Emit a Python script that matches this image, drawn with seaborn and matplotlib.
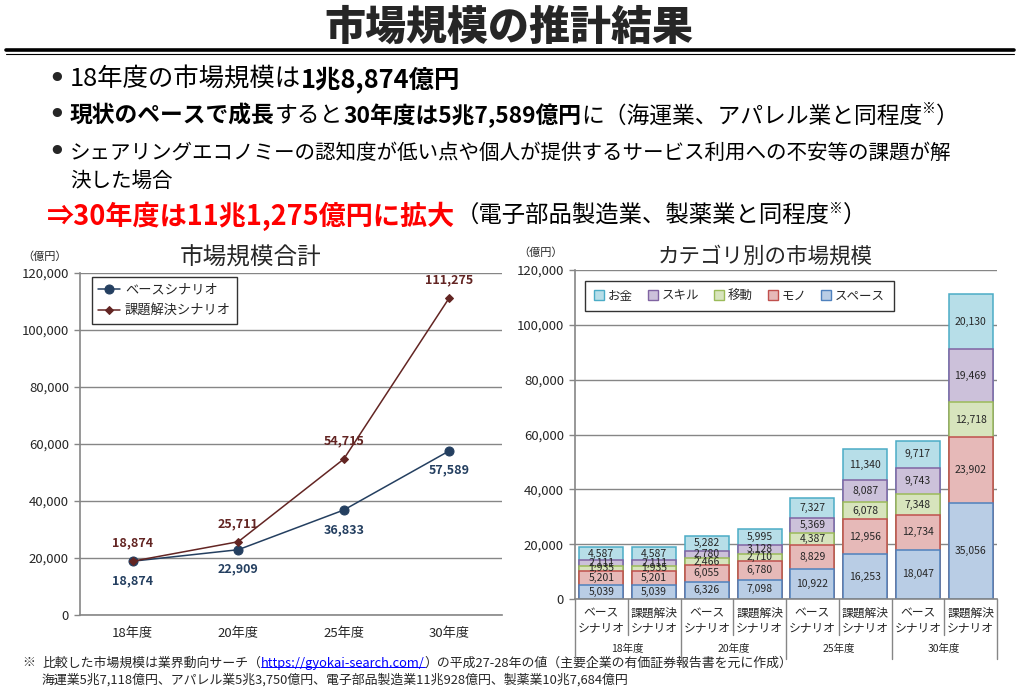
import numpy as np
import pandas as pd
import matplotlib.pyplot as plt
import matplotlib.transforms as mtransforms
from matplotlib.patches import Patch
from matplotlib.lines import Line2D
import seaborn as sns

sns.set_style("white")
plt.rcParams['font.family'] = ['Noto Sans CJK JP', 'DejaVu Sans']

# ---- データ ----
years = ['18年度', '20年度', '25年度', '30年度']
base_total = [18874, 22909, 36833, 57589]
solution_total = [18874, 25711, 54715, 111275]

scenario_labels = ['ベース\nシナリオ', '課題解決\nシナリオ']
bar_ids = ['18b', '18s', '20b', '20s', '25b', '25s', '30b', '30s']
# 下から積み上げ順
space = [5039, 5039, 6326, 7098, 10922, 16253, 18047, 35056]
mono = [5201, 5201, 6055, 6780, 8829, 12956, 12734, 23902]
idou = [1935, 1935, 2466, 2710, 4387, 6078, 7348, 12718]
skill = [2111, 2111, 2780, 3128, 5369, 8087, 9743, 19469]
okane = [4587, 4587, 5282, 5995, 7327, 11340, 9717, 20130]
cat_names = ['スペース', 'モノ', '移動', 'スキル', 'お金']
cat_values = [space, mono, idou, skill, okane]

fills = ['#B9CDE5', '#E6B9B8', '#D7E4BD', '#CCC1DA', '#B7DEE8']
edges = ['#4F81BD', '#C0504D', '#9BBB59', '#8064A2', '#4BACC6']
navy = '#243F60'
brown = '#632523'
grid_c = '#868686'

W, H = 1017, 691


def px(x, y):
    return x / W, 1 - y / H


fig = plt.figure(figsize=(W / 100, H / 100), dpi=100)
bg = fig.add_axes([0, 0, 1, 1])
bg.axis('off')
bg.set_xlim(0, 1)
bg.set_ylim(0, 1)

# ---- ヘッダー ----
fig.text(*px(509, 28), '市場規模の推計結果', ha='center', va='center',
         fontsize=29.5, fontweight='heavy')
fig.add_artist(Line2D([6 / W, 1014 / W], [1 - 50 / H] * 2, color='black', lw=2.6))
fig.add_artist(Line2D([6 / W, 1014 / W], [1 - 54 / H] * 2, color='black', lw=0.8))


def chain(parts, x, y):
    """parts: list of (text, size, weight, color, sup)"""
    prev = None
    main = None
    for s, fs, w, c, sup in parts:
        if prev is None:
            t = bg.text(*px(x, y), s, fontsize=fs, fontweight=w, color=c,
                        ha='left', va='center')
            main = t
        elif sup:
            t = bg.annotate(s, xy=(1, 0.8), xycoords=prev, fontsize=fs,
                            fontweight=w, color=c, ha='left', va='center',
                            annotation_clip=False)
        else:
            t = bg.annotate(s, xy=(1, 0.5), xycoords=(prev, main), fontsize=fs,
                            fontweight=w, color=c, ha='left', va='center',
                            annotation_clip=False)
            main = t
        prev = t


for yy in [80, 116, 153]:
    bg.text(*px(57, yy), '•', fontsize=19, fontweight='bold', ha='center', va='center',
            family=['DejaVu Sans'])

chain([('18年度の市場規模は', 18.3, 'normal', 'black', False),
       ('1兆8,874億円', 18.3, 'bold', 'black', False)], 70, 80)
chain([('現状のペースで成長', 16.4, 'bold', 'black', False),
       ('すると', 16.4, 'normal', 'black', False),
       ('30年度は5兆7,589億円', 16.4, 'bold', 'black', False),
       ('に（海運業、アパレル業と同程度', 16.4, 'normal', 'black', False),
       ('※', 10, 'normal', 'black', True),
       ('）', 16.4, 'normal', 'black', False)], 70, 116)
chain([('シェアリングエコノミーの認知度が低い点や個人が提供するサービス利用への不安等の課題が解',
        14.8, 'normal', 'black', False)], 70, 153)
chain([('決した場合', 14.8, 'normal', 'black', False)], 70, 181)
chain([('⇒30年度は11兆1,275億円に拡大', 19.5, 'bold', '#FF0000', False),
       ('（電子部品製造業、製薬業と同程度', 16.8, 'normal', 'black', False),
       ('※', 10, 'normal', 'black', True),
       ('）', 16.8, 'normal', 'black', False)], 47, 216)

# ---- 左: 市場規模合計 ----
ax1 = fig.add_axes([80 / W, (H - 615) / H, 422 / W, 342 / H])
x_pos = list(range(len(years)))
sns.lineplot(x=x_pos, y=base_total, marker='o', markersize=6.5, color=navy,
             markeredgecolor=navy, lw=1.1, label='ベースシナリオ', ax=ax1)
sns.lineplot(x=x_pos, y=solution_total, marker='D', markersize=4.5, color=brown,
             markeredgecolor=brown, lw=1.1, label='課題解決シナリオ', ax=ax1)

for i, v in enumerate(base_total):
    ax1.annotate(f'{v:,}', (i, v), xytext=(0, -14), textcoords='offset points',
                 ha='center', va='center', fontsize=9, fontweight='bold', color=navy)
for i, v in enumerate(solution_total):
    ax1.annotate(f'{v:,}', (i, v), xytext=(0, 13), textcoords='offset points',
                 ha='center', va='center', fontsize=9, fontweight='bold', color=brown)

ax1.set_xlim(-0.5, len(years) - 0.5)
ax1.set_ylim(0, 120000)
ax1.set_yticks(range(0, 120001, 20000))
ax1.set_yticklabels([f'{v:,}' for v in range(0, 120001, 20000)], fontsize=9.5)
ax1.set_xticks(x_pos)
ax1.set_xticklabels(years, fontsize=9.5)
ax1.set_xticks(np.arange(-0.5, len(years)), minor=True)
ax1.tick_params(axis='x', which='major', length=0, pad=9)
ax1.tick_params(axis='x', which='minor', length=5, color=grid_c, width=1)
ax1.tick_params(axis='y', length=4, color=grid_c, width=1, pad=4, left=True)
ax1.grid(axis='y', color=grid_c, lw=1)
ax1.set_axisbelow(True)
for s in ['top', 'right']:
    ax1.spines[s].set_visible(False)
for s in ['left', 'bottom']:
    ax1.spines[s].set_color(grid_c)
    ax1.spines[s].set_linewidth(1.2)
ax1.set_xlabel('')
ax1.set_ylabel('')
leg1 = ax1.legend(loc='upper left', bbox_to_anchor=(0.028, 0.988), fontsize=9.5,
                  frameon=True, fancybox=False, edgecolor='black', borderaxespad=0,
                  handlelength=1.6, handletextpad=0.4, borderpad=0.5, labelspacing=0.6)
leg1.get_frame().set_linewidth(1.0)

fig.text(*px(251, 258), '市場規模合計', ha='center', va='center', fontsize=17)
fig.text(*px(45, 257), '（億円）', ha='center', va='center', fontsize=8)

# ---- 右: カテゴリ別の市場規模 ----
ax2 = fig.add_axes([575 / W, (H - 599) / H, 422 / W, 329 / H])
cum = np.cumsum(np.array(cat_values), axis=0)
for k in range(len(cat_names) - 1, -1, -1):
    sns.barplot(x=bar_ids, y=cum[k], color=fills[k], edgecolor=edges[k],
                linewidth=1.1, width=0.83, saturation=1, ax=ax2)
for k in range(len(cat_names)):
    bottoms = cum[k] - np.array(cat_values[k])
    for j, v in enumerate(cat_values[k]):
        ax2.text(j, bottoms[j] + v / 2, f'{v:,}', ha='center', va='center',
                 fontsize=7.5, color='#262626')

ax2.set_xlim(-0.5, len(bar_ids) - 0.5)
ax2.set_ylim(0, 120000)
ax2.set_yticks(range(0, 120001, 20000))
ax2.set_yticklabels([f'{v:,}' for v in range(0, 120001, 20000)], fontsize=9.5)
ax2.set_xticks([])
ax2.tick_params(axis='y', length=4, color=grid_c, width=1, pad=4, left=True)
ax2.grid(axis='y', color=grid_c, lw=1)
ax2.set_axisbelow(True)
for s in ['top', 'right']:
    ax2.spines[s].set_visible(False)
for s in ['left', 'bottom']:
    ax2.spines[s].set_color(grid_c)
    ax2.spines[s].set_linewidth(1.2)
ax2.set_xlabel('')
ax2.set_ylabel('')

tr = mtransforms.blended_transform_factory(ax2.transData, ax2.transAxes)
axh = 329
for j in range(len(bar_ids)):
    top_line, bottom_line = scenario_labels[j % 2].split('\n')
    ax2.text(j, -(613 - 599) / axh, top_line, transform=tr,
             ha='center', va='center', fontsize=8.5)
    ax2.text(j, -(628 - 599) / axh, bottom_line, transform=tr,
             ha='center', va='center', fontsize=8.5)
for i, y in enumerate(years):
    ax2.text(2 * i + 0.5, -(649 - 599) / axh, y, transform=tr,
             ha='center', va='center', fontsize=7.5)
for b in np.arange(-0.5, len(bar_ids)):
    low = -(659 - 599) / axh if (b + 0.5) % 2 == 0 else -(635 - 599) / axh
    ax2.plot([b, b], [0, low], transform=tr, color=grid_c, lw=1, clip_on=False)

handles = [Patch(facecolor=fills[k], edgecolor=edges[k], label=cat_names[k])
           for k in range(len(cat_names) - 1, -1, -1)]
leg2 = ax2.legend(handles=handles, loc='upper left', bbox_to_anchor=(0.024, 0.967),
                  ncol=5, fontsize=9, frameon=True, fancybox=False, edgecolor='black',
                  borderaxespad=0, handlelength=0.8, handleheight=0.8, handletextpad=0.3,
                  columnspacing=1.2, borderpad=0.7)
leg2.get_frame().set_linewidth(1.0)

fig.text(*px(765, 257), 'カテゴリ別の市場規模', ha='center', va='center', fontsize=15.5)
fig.text(*px(541, 253), '（億円）', ha='center', va='center', fontsize=8)

# ---- 脚注 ----
fn = 9.3
bg.text(*px(22, 663), '※', fontsize=fn, ha='left', va='center')
t1 = bg.text(*px(42, 663), '比較した市場規模は業界動向サーチ（', fontsize=fn,
             ha='left', va='center')
url = bg.annotate('https://gyokai-search.com/', xy=(1, 0.5), xycoords=t1,
                  fontsize=fn, color='#0000FF', ha='left', va='center',
                  annotation_clip=False)
bg.annotate('）の平成27-28年の値（主要企業の有価証券報告書を元に作成）', xy=(1, 0.5),
            xycoords=(url, t1), fontsize=fn, ha='left', va='center',
            annotation_clip=False)
bg.text(*px(42, 680), '海運業5兆7,118億円、アパレル業5兆3,750億円、電子部品製造業11兆928億円、製薬業10兆7,684億円',
        fontsize=fn, ha='left', va='center')

fig.canvas.draw()
bb = url.get_window_extent()
fig.add_artist(Line2D([bb.x0, bb.x1], [bb.y0 + 3, bb.y0 + 3], color='#0000FF', lw=0.7,
                      transform=mtransforms.IdentityTransform()))

fig.savefig('out.png', dpi=100)
